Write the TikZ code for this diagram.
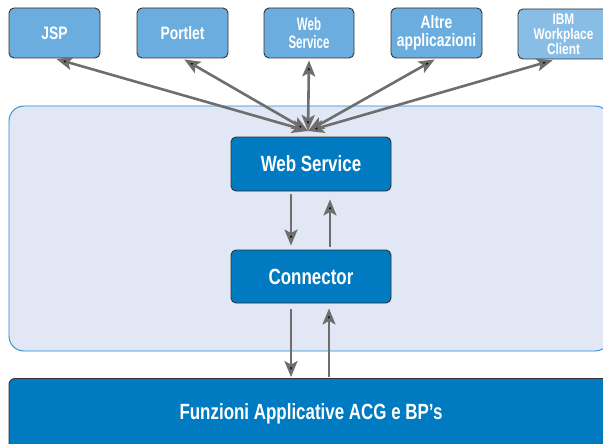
\documentclass[tikz,border=0pt]{standalone}
\usepackage{fontspec}
\setmainfont{Liberation Sans}[FakeStretch=0.77]
\newfontfamily\narrowsans{Liberation Sans}[FakeStretch=0.64]
\usepackage{tikz}
\usetikzlibrary{arrows.meta,positioning}
\definecolor{clientblue}{RGB}{106,173,222}
\definecolor{ibmblue}{RGB}{136,190,229}
\definecolor{acgblue}{RGB}{0,122,193}
\definecolor{panelfill}{RGB}{225,231,244}
\definecolor{panelline}{RGB}{40,140,210}
\definecolor{flowgray}{RGB}{110,110,110}
\tikzset
{
    clientbox/.style = {rectangle, rounded corners=5pt, draw=black!80, line width=0.9pt, fill=clientblue, text=white, align=center, minimum width=91pt, minimum height=50pt, inner sep=0pt, font=\fontsize{18}{17.7}\selectfont\bfseries},
    corebox/.style   = {rectangle, rounded corners=5pt, draw=black!80, line width=0.9pt, fill=acgblue, text=white, align=center, minimum width=160pt, minimum height=54pt, inner sep=0pt, font=\fontsize{22}{22}\selectfont\bfseries},
    flow/.style      = {draw=flowgray, line width=2.6pt},
    >={Stealth[length=16pt, width=13pt, inset=3.5pt]}
}

\begin{document}
\begin{tikzpicture}[x=1pt, y=-1pt]
	\useasboundingbox (0,0) rectangle (603,444);
%% panel and bottom bar
\node (panel)	[rectangle, rounded corners=15pt, draw=panelline, line width=0.9pt, fill=panelfill, minimum width=601pt, minimum height=245pt, inner sep=0pt] 	at (309.5,228.5)	{};
\node (acg)		[corebox, rounded corners=6pt, minimum width=604pt, minimum height=71pt] 	at (311,414)	{Funzioni Applicative ACG e BP’s};

%% clients
\node (jsp)		[clientbox] 									at (54.5,33)	{JSP};
\node (portlet)	[clientbox] 									at (182.5,33)	{Portlet};
\node (wsext)	[clientbox, minimum width=90pt, font=\fontsize{18}{17.7}\narrowsans\bfseries] 	at (309,33)		{Web\\Service};
\node (altre)	[clientbox] 									at (436.5,33)	{Altre\\applicazioni};
\node (ibm)		[clientbox, fill=ibmblue, font=\fontsize{15.4}{14.8}\selectfont\bfseries] 	at (563.5,34)	{IBM\\Workplace\\Client};

%% inner boxes
\node (ws)		[corebox] 										at (311,164)	{Web Service};
\node (conn)	[corebox, minimum height=53pt] 					at (311,276.5)	{Connector};
\coordinate (hub) at (308,131);

\path[flow]
(jsp.south) 		edge[<->, shorten <=2pt]				(hub)
(portlet.south) 	edge[<->, shorten <=2pt]				(hub)
(wsext.south) 		edge[<->, shorten <=2pt]				(hub)
(altre.south) 		edge[<->, shorten <=2pt]				(hub)
([xshift=-8pt]ibm.south) edge[<->, shorten <=3pt]			(hub);

\path[flow]
([xshift=-20pt]ws.south) 	edge[->, shorten <=3pt, shorten >=4pt] 	([xshift=-20pt]conn.north)
([xshift=19pt]conn.north) 	edge[->, shorten <=3pt, shorten >=8pt] 	([xshift=19pt]ws.south)
([xshift=-20pt]conn.south) 	edge[->, shorten <=6pt, shorten >=1pt] 	([xshift=-20pt]conn.south |- acg.north)
([xshift=18pt]conn.south |- acg.north) 	edge[->, shorten <=1pt, shorten >=5pt] 	([xshift=18pt]conn.south);
	\end{tikzpicture}
\end{document}
